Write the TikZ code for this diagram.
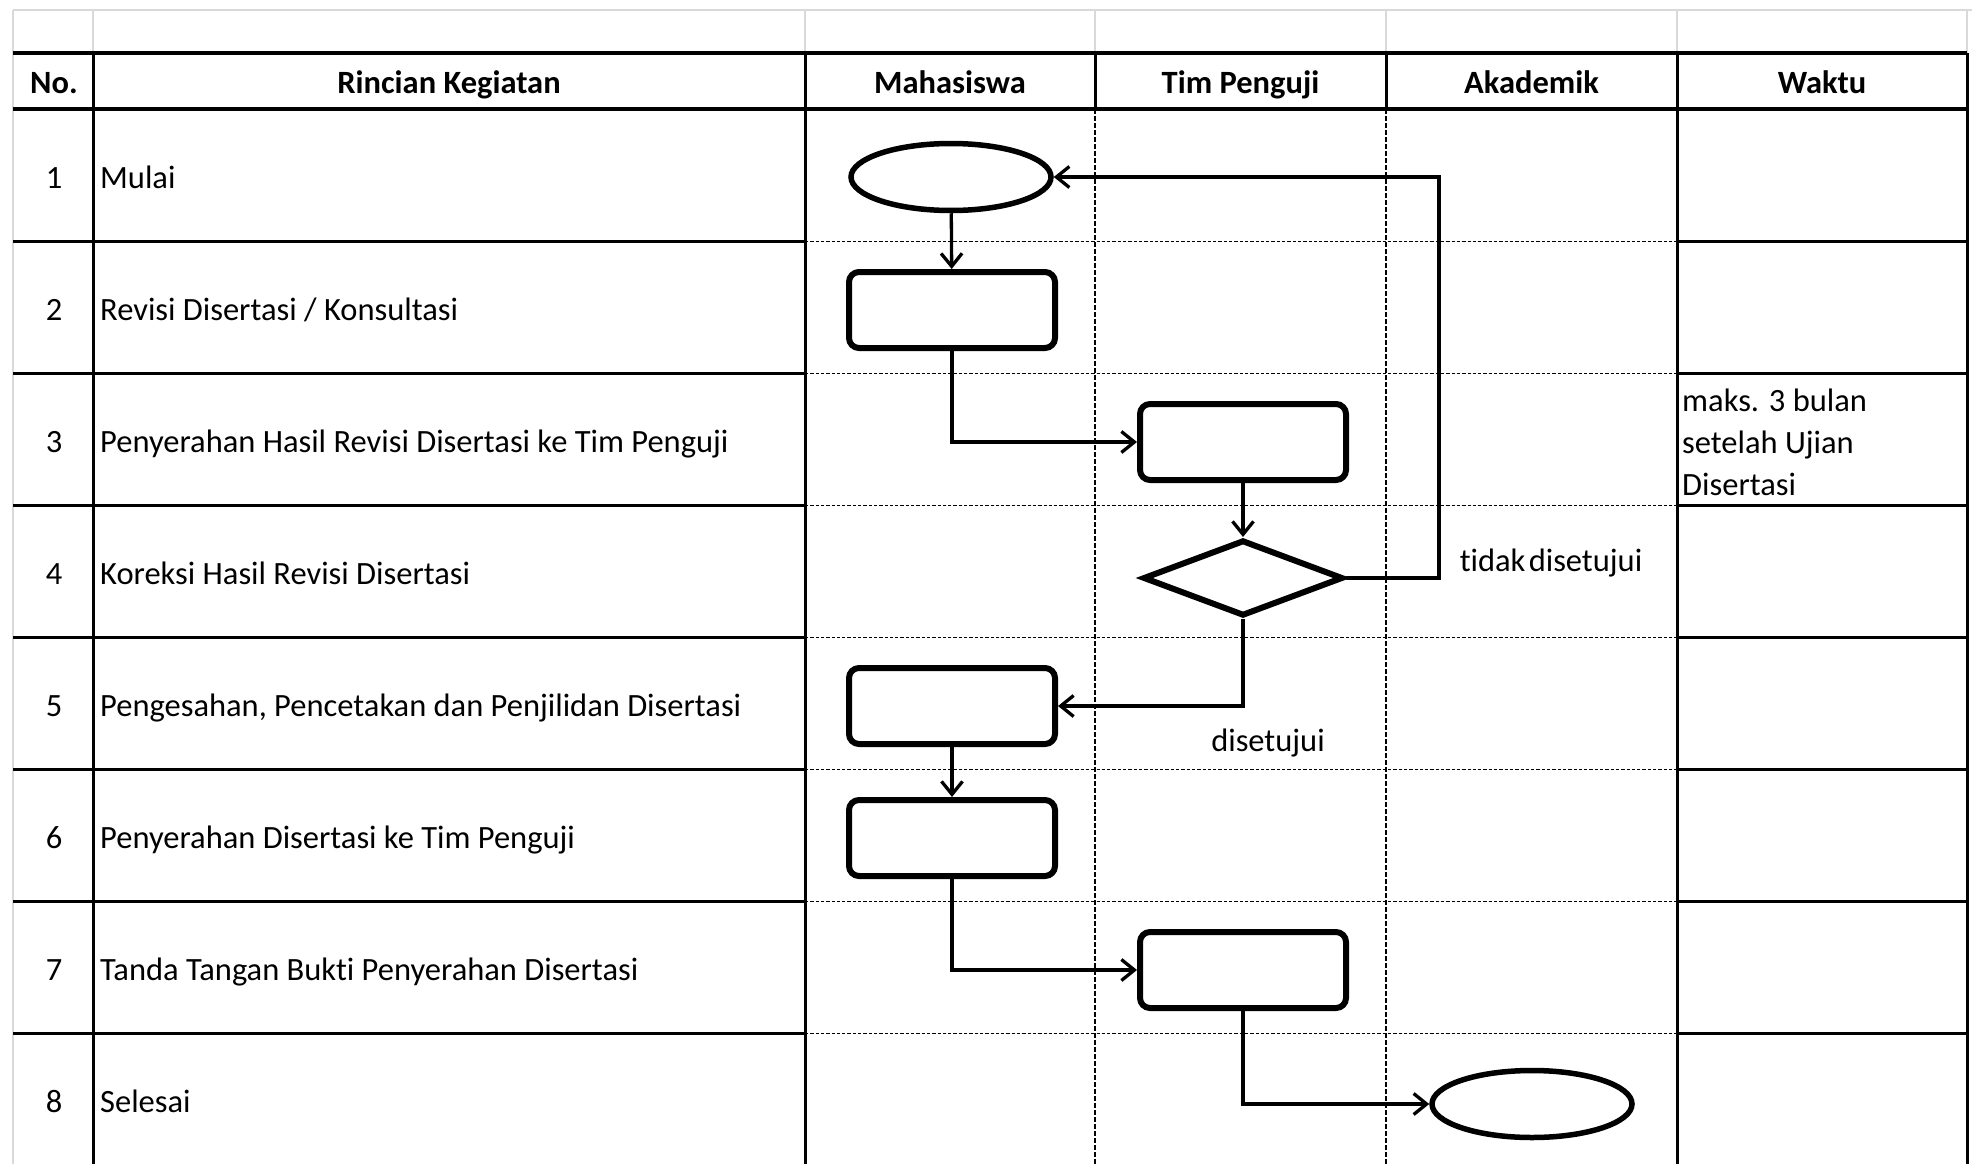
\documentclass[tikz,border=0pt]{standalone}
\usepackage{fontspec}
\setmainfont{Carlito}[Ligatures=NoCommon]
\usetikzlibrary{arrows.meta,shapes.geometric}
\begin{document}
\begin{tikzpicture}[x=1pt,y=-1pt,
  gridgray/.style={draw=black!15, line width=1.5pt},
  tline/.style={line width=3pt},
  hline/.style={line width=4pt},
  lanedash/.style={line width=1.3pt, dash pattern=on 3.3pt off 2pt},
  vdash/.style={line width=1.3pt, dash pattern=on 4.5pt off 2.5pt},
  proc/.style={draw, line width=6pt, rounded corners=10pt, minimum width=206pt, minimum height=76pt, inner sep=0pt},
  term/.style={draw, ellipse, line width=5.5pt, minimum width=200pt, minimum height=67pt, inner sep=0pt},
  decision/.style={draw, diamond, line width=6pt, minimum width=200pt, minimum height=76pt, inner sep=0pt},
  flow/.style={line width=3.3pt, -{Straight Barb[length=13pt,width=21pt]}},
  txt/.style={font=\fontsize{32.5}{38}\selectfont, inner sep=0pt},
  hdr/.style={font=\fontsize{32.5}{38}\selectfont\bfseries, inner sep=0pt},
]
\useasboundingbox (0,0) rectangle (1972,1164);
\fill[white] (0,0) rectangle (1972,1164);
% spreadsheet grid above the table
\draw[gridgray] (13,10) -- (1972,10);
\draw[gridgray] (13,10) -- (13,1164);
\foreach \x in {93,805,1095,1386,1677,1967} \draw[gridgray] (\x,10) -- (\x,53);
% header lines
\draw[hline] (13,53) -- (1967,53);
\draw[hline] (13,109) -- (1967,109);
% row lines
\foreach \y in {241.5,373.5,505.6,637.7,769.7,901.8,1033.8} {
  \draw[tline] (13,\y) -- (805,\y);
  \draw[lanedash] (805,\y) -- (1677,\y);
  \draw[tline] (1677,\y) -- (1967,\y);
}
% vertical lines
\foreach \x in {93,805,1677,1967} \draw[tline] (\x,53) -- (\x,1164);
\foreach \x in {1095,1386} {
  \draw[tline] (\x,53) -- (\x,109);
  \draw[vdash] (\x,109) -- (\x,1164);
}
% header text
\node[hdr, anchor=base] (hno) at (54,93) {No.};
\node[hdr, anchor=base] (hrk) at (449,93) {Rincian Kegiatan};
\node[hdr, anchor=base] (hmh) at (950,93) {Mahasiswa};
\node[hdr, anchor=base] (htp) at (1240.5,93) {Tim Penguji};
\node[hdr, anchor=base] (hak) at (1531.5,93) {Akademik};
\node[hdr, anchor=base] (hwk) at (1822,93) {Waktu};
% rows
\foreach \i/\t [evaluate=\i as \yc using 188.5+132.06*(\i-1)] in {
  1/{Mulai},
  2/{Revisi Disertasi / Konsultasi},
  3/{Penyerahan Hasil Revisi Disertasi ke Tim Penguji},
  4/{Koreksi Hasil Revisi Disertasi},
  5/{Pengesahan, Pencetakan dan Penjilidan Disertasi},
  6/{Penyerahan Disertasi ke Tim Penguji},
  7/{Tanda Tangan Bukti Penyerahan Disertasi},
  8/{Selesai}} {
  \node[txt, anchor=base] (n\i) at (54,\yc) {\i};
  \node[txt, anchor=base west] (k\i) at (100,\yc) {\t};
}
\node[txt, anchor=west, align=left, font=\fontsize{32.5}{42}\selectfont] (wkt) at (1682,442) {maks. 3 bulan\\setelah Ujian\\Disertasi};
% flow shapes
\node[term] (start) at (951,177) {};
\node[proc] (r2) at (952,310) {};
\node[proc] (r3) at (1243,442) {};
\node[decision] (dec) at (1243,578) {};
\node[proc] (r5) at (952,706) {};
\node[proc] (r6) at (952,838) {};
\node[proc] (r7) at (1243,970) {};
\node[term] (stop) at (1532,1104) {};
\coordinate (loop) at (1439,177);
% connectors
\draw[flow] (start) -- (r2);
\draw[flow] (r2.south) |- (r3.west);
\draw[flow] (r3) -- (dec);
\draw[flow] (dec.east) -| (loop) -- (start.east);
\draw[flow] (dec.south) |- (r5.east);
\draw[flow] (r5) -- (r6);
\draw[flow] (r6.south) |- (r7.west);
\draw[flow] (r7.south) |- (stop.west);
% labels
\node[txt] (ltd) at (1551,563) {tidak\hspace{0.1em}disetujui};
\node[txt] (lds) at (1268,743) {disetujui};
\end{tikzpicture}
\end{document}
